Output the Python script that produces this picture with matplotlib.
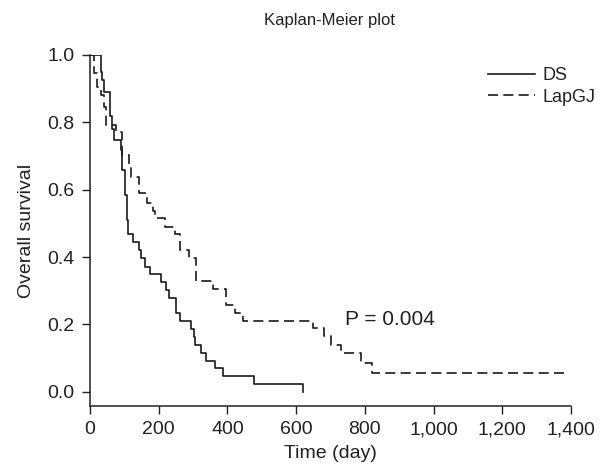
import matplotlib
matplotlib.use("Agg")
import matplotlib.pyplot as plt

plt.rcParams['font.family'] = ['Liberation Sans', 'DejaVu Sans']

# DS group: event times (day) and survival after each step
ds_time = [0, 33, 36, 40, 59, 64, 70, 89, 93, 103, 107, 111, 125, 143, 148, 159, 174,
           208, 222, 230, 249, 261, 293, 302, 305, 324, 339, 365, 386, 478, 620]
ds_surv = [1.0, 0.95, 0.926, 0.89, 0.82, 0.78, 0.748, 0.718, 0.659, 0.585, 0.51, 0.47,
           0.446, 0.421, 0.398, 0.372, 0.35, 0.327, 0.303, 0.28, 0.233, 0.21, 0.186,
           0.163, 0.14, 0.116, 0.093, 0.07, 0.047, 0.023, 0.0]

# LapGJ group
lap_time = [0, 13, 21, 31, 41, 48, 77, 92, 114, 120, 142, 165, 183, 190, 217, 248, 261,
            287, 309, 358, 397, 421, 445, 649, 680, 700, 730, 790, 820, 1390]
lap_surv = [1.0, 0.947, 0.906, 0.88, 0.847, 0.792, 0.772, 0.703, 0.668, 0.639, 0.589,
            0.56, 0.536, 0.515, 0.49, 0.47, 0.421, 0.397, 0.329, 0.305, 0.258, 0.233,
            0.209, 0.19, 0.165, 0.14, 0.115, 0.085, 0.055, 0.055]

x_ticks = [0, 200, 400, 600, 800, 1000, 1200, 1400]
x_labels = ['0', '200', '400', '600', '800', '1,000', '1,200', '1,400']
y_ticks = [0.0, 0.2, 0.4, 0.6, 0.8, 1.0]
y_labels = ['0.0', '0.2', '0.4', '0.6', '0.8', '1.0']

TXT = '#222222'
fig = plt.figure(figsize=(6.09, 4.76), dpi=100)
ax = fig.add_axes([90 / 609, 1 - 406 / 476, (571 - 90) / 609, (406 - 55) / 476])

ax.step(ds_time, ds_surv, where='post', color='#1a1a1a', lw=1.2, label='DS')
ax.step(lap_time, lap_surv, where='post', color='#1a1a1a', lw=1.2,
        linestyle=(0, (6, 3.2)), label='LapGJ')

ax.set_xlim(0, 1400)
ax.set_ylim(-0.042, 1.0)
ax.set_xticks(x_ticks)
ax.set_xticklabels(x_labels)
ax.set_yticks(y_ticks)
ax.set_yticklabels(y_labels)
ax.tick_params(direction='out', length=6, width=1, labelsize=14, colors=TXT, pad=5)
for s in ['top', 'right']:
    ax.spines[s].set_visible(False)
for s in ['left', 'bottom']:
    ax.spines[s].set_linewidth(1.1)
    ax.spines[s].set_color(TXT)

ax.set_xlabel('Time (day)', fontsize=14, color=TXT, labelpad=5)
ax.set_ylabel('Overall survival', fontsize=14, color=TXT, labelpad=9)
fig.text(330 / 609, 1 - 20 / 476, 'Kaplan-Meier plot', ha='center', va='center',
         fontsize=12, color=TXT)

ax.text(741, 0.214, 'P = 0.004', fontsize=15, va='center', ha='left', color=TXT)

leg = ax.legend(loc='upper left', bbox_to_anchor=((488 - 90) / 481, 1 - (67 - 55) / 351),
                frameon=False, fontsize=13, handlelength=2.6, handletextpad=0.4,
                labelspacing=0.25, borderpad=0, borderaxespad=0)
for t in leg.get_texts():
    t.set_color(TXT)

fig.savefig('out.png', dpi=100)
